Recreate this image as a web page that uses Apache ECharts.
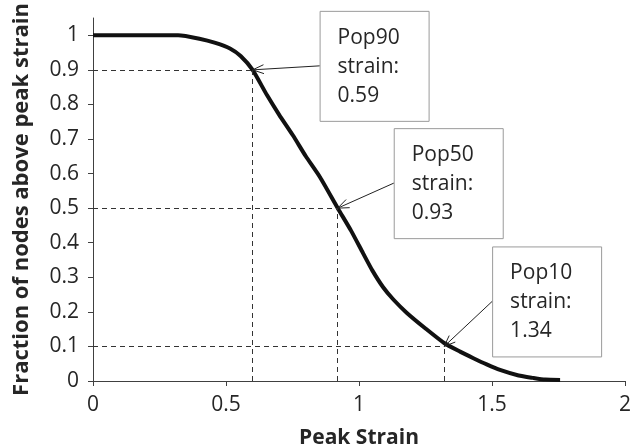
<!DOCTYPE html>
<html>
<head>
<meta charset="utf-8">
<script src="https://cdn.jsdelivr.net/npm/echarts@6/dist/echarts.min.js"></script>
<style>
  html, body { margin: 0; padding: 0; background: #fff; }
  #chart { width: 630px; height: 448px; }
</style>
</head>
<body>
<div id="chart"></div>
<script>
// Cumulative curve: fraction of nodes above a given peak strain
const strainValues = [0, 0.32, 0.4, 0.46, 0.515, 0.555, 0.6, 0.654, 0.7, 0.752, 0.8, 0.853, 0.92, 0.97,
  1.015, 1.05, 1.09, 1.13, 1.18, 1.25, 1.32, 1.38, 1.43, 1.48, 1.53, 1.6, 1.654, 1.7, 1.756]
const fractionValues = [1, 1, 0.99, 0.978, 0.962, 0.94, 0.9, 0.827, 0.77, 0.71, 0.65, 0.59, 0.5, 0.435,
  0.37, 0.32, 0.272, 0.235, 0.197, 0.152, 0.11, 0.085, 0.066, 0.048, 0.032, 0.016, 0.009, 0.004, 0.003]

// Population thresholds (callouts + dashed guides)
const popNames = ['Pop90', 'Pop50', 'Pop10']
const popStrainText = ['0.59', '0.93', '1.34']
const popX = [0.6, 0.92, 1.32]
const popY = [0.9, 0.5, 0.1]

// Axis ticks
const xTicks = [0, 0.5, 1, 1.5, 2]
const yTicks = [0, 0.1, 0.2, 0.3, 0.4, 0.5, 0.6, 0.7, 0.8, 0.9, 1]

// Callout box offsets from the marked point (px)
const BOX_OFFSETS = [[67, -59], [56, -80], [48, -100]]
const BOX_W = 109
const BOX_H = 110

const FONT = '"Open Sans", "Liberation Sans", sans-serif'
const TEXT = '#262626'
const AXIS = '#404040'

const chart = echarts.init(document.getElementById('chart'))

const curve = strainValues.map((x, i) => [x, fractionValues[i]])

const guides = []
popX.forEach((x, i) => {
  guides.push([{ coord: [0, popY[i]] }, { coord: [x, popY[i]] }])
  guides.push([{ coord: [x, 0] }, { coord: [x, popY[i]] }])
})

chart.setOption({
  animation: false,
  backgroundColor: '#fff',
  grid: { left: 93, right: 5, top: 18, bottom: 67, outerBoundsMode: 'none', containLabel: false },
  xAxis: {
    type: 'value',
    min: 0,
    max: 2,
    interval: 0.5,
    name: 'Peak Strain',
    nameLocation: 'middle',
    nameGap: 47,
    nameTextStyle: { fontFamily: FONT, fontSize: 21, fontWeight: 'bold', color: TEXT },
    axisLine: { show: true, lineStyle: { color: AXIS, width: 1 } },
    axisTick: { show: true, length: 5, lineStyle: { color: AXIS } },
    axisLabel: {
      fontFamily: FONT, fontSize: 21, color: TEXT, margin: 14,
      customValues: xTicks,
      formatter: v => String(v)
    },
    splitLine: { show: false }
  },
  yAxis: {
    type: 'value',
    min: 0,
    max: 1.05,
    name: 'Fraction of nodes above peak strain',
    nameLocation: 'middle',
    nameGap: 60,
    nameTextStyle: { fontFamily: FONT, fontSize: 22, fontWeight: 'bold', color: TEXT },
    axisLine: { show: true, lineStyle: { color: AXIS, width: 1 } },
    axisTick: { show: true, length: 5, lineStyle: { color: AXIS }, customValues: yTicks },
    axisLabel: {
      fontFamily: FONT, fontSize: 21, color: TEXT, margin: 14,
      customValues: yTicks,
      formatter: v => String(Math.round(v * 10) / 10)
    },
    splitLine: { show: false }
  },
  series: [{
    type: 'line',
    data: curve,
    showSymbol: false,
    smooth: 0.2,
    lineStyle: { color: '#111', width: 4 },
    z: 3,
    markLine: {
      silent: true,
      symbol: 'none',
      label: { show: false },
      lineStyle: { color: '#333', width: 1, type: [5, 4] },
      data: guides
    }
  }]
})

// callout boxes with arrows, anchored to the threshold points
const graphics = []
popX.forEach((x, i) => {
  const [px, py] = chart.convertToPixel({ gridIndex: 0 }, [x, popY[i]])
  const left = px + BOX_OFFSETS[i][0]
  const top = py + BOX_OFFSETS[i][1]
  const tailX = left
  const tailY = top + 55
  const ang = Math.atan2(tailY - py, tailX - px)
  const head = 12
  const spread = 0.38
  graphics.push({
    type: 'rect',
    shape: { x: left + 0.5, y: top + 0.5, width: BOX_W, height: BOX_H },
    style: { fill: '#fff', stroke: '#9a9a9a', lineWidth: 1 },
    z: 10
  })
  graphics.push({
    type: 'text',
    x: left + 18,
    y: top + 56,
    style: {
      text: popNames[i] + '\nstrain:\n' + popStrainText[i],
      font: '21px ' + FONT,
      fill: TEXT,
      lineHeight: 29,
      verticalAlign: 'middle',
      align: 'left'
    },
    z: 11
  })
  graphics.push({
    type: 'line',
    shape: { x1: tailX, y1: tailY, x2: px, y2: py },
    style: { stroke: '#222', lineWidth: 1 },
    z: 10
  })
  graphics.push({
    type: 'polyline',
    shape: {
      points: [
        [px + head * Math.cos(ang - spread), py + head * Math.sin(ang - spread)],
        [px, py],
        [px + head * Math.cos(ang + spread), py + head * Math.sin(ang + spread)]
      ]
    },
    style: { stroke: '#222', lineWidth: 1, fill: null },
    z: 10
  })
})

chart.setOption({ graphic: graphics })
</script>
</body>
</html>
